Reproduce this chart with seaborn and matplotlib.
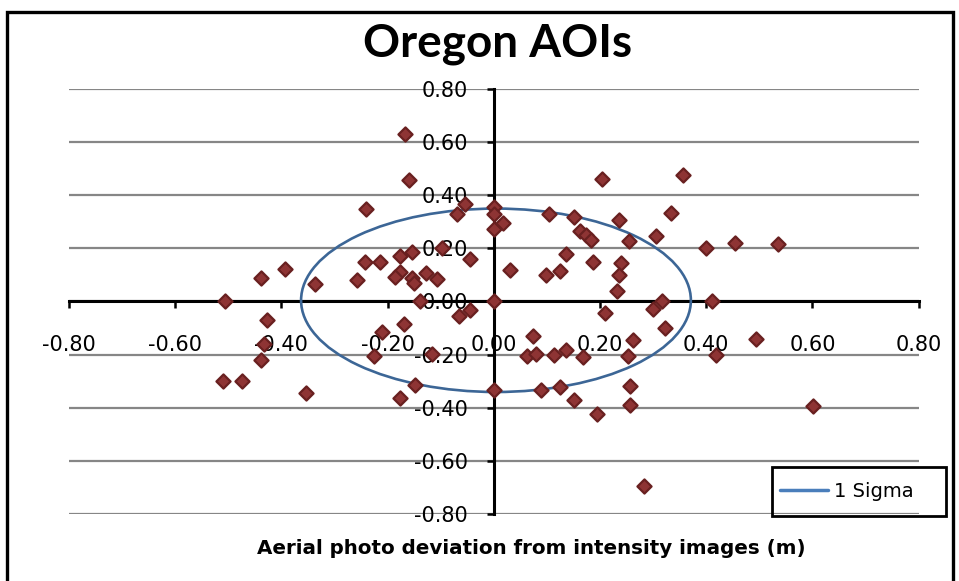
import matplotlib
matplotlib.use("Agg")
import matplotlib.pyplot as plt
from matplotlib.patches import Ellipse, Rectangle
from matplotlib.lines import Line2D
import seaborn as sns
import pandas as pd

# ---- data ----
x_dev = [-0.168, -0.159, -0.240, -0.069, -0.055, 0.000, 0.000, 0.000, -0.098, -0.154,
         -0.176, -0.044, -0.243, -0.214, -0.177, -0.187, -0.127, -0.107, -0.154, -0.150,
         -0.257, -0.336, -0.394, -0.439, -0.507, -0.139, 0.000,
         0.203, 0.356, 0.018, 0.103, 0.150, 0.162, 0.173, 0.182, 0.235, 0.333,
         0.306, 0.254, 0.400, 0.454, 0.536, 0.136, 0.031, 0.099, 0.124, 0.187,
         0.240, 0.235, 0.232, 0.317, 0.410,
         -0.427, -0.432, -0.439, -0.510, -0.474, -0.353, -0.211, -0.226, -0.169, -0.117,
         -0.149, -0.177, -0.065, -0.045, 0.000,
         0.210, 0.299, 0.323, 0.074, 0.062, 0.079, 0.114, 0.136, 0.168, 0.262,
         0.253, 0.089, 0.124, 0.151, 0.195, 0.257, 0.257, 0.493, 0.418, 0.601, 0.283]
y_dev = [0.628, 0.456, 0.347, 0.330, 0.367, 0.355, 0.330, 0.273, 0.201, 0.185,
         0.169, 0.158, 0.147, 0.148, 0.110, 0.092, 0.106, 0.084, 0.087, 0.069,
         0.079, 0.064, 0.123, 0.089, 0.000, 0.001, 0.000,
         0.460, 0.474, 0.294, 0.330, 0.318, 0.266, 0.249, 0.231, 0.307, 0.333,
         0.247, 0.226, 0.200, 0.219, 0.215, 0.177, 0.117, 0.098, 0.114, 0.149,
         0.145, 0.100, 0.039, 0.001, 0.000,
         -0.069, -0.159, -0.220, -0.301, -0.301, -0.343, -0.115, -0.205, -0.086, -0.197,
         -0.315, -0.363, -0.055, -0.034, -0.335,
         -0.042, -0.029, -0.099, -0.132, -0.207, -0.199, -0.203, -0.184, -0.209, -0.147,
         -0.207, -0.333, -0.324, -0.370, -0.425, -0.317, -0.389, -0.143, -0.203, -0.394, -0.694]

sigma_center = (0.004, 0.004)
sigma_x = 0.367
sigma_y = 0.345

tick_values = [-0.80, -0.60, -0.40, -0.20, 0.00, 0.20, 0.40, 0.60, 0.80]
tick_labels = ["-0.80", "-0.60", "-0.40", "-0.20", "0.00", "0.20", "0.40", "0.60", "0.80"]

title_text = "Oregon AOIs"
xlabel_text = "Aerial photo deviation from intensity images (m)"
legend_text = "1 Sigma"

df = pd.DataFrame({"x": x_dev, "y": y_dev})

# ---- style ----
sns.set_style("white")
plt.rcParams["font.family"] = ["DejaVu Sans"]
plt.rcParams["text.color"] = "black"

W, H = 959, 581
fig = plt.figure(figsize=(W / 100, H / 100), dpi=100)
fig.patch.set_facecolor("white")

ax_left, ax_right = 69 / W, 918.7 / W
ax_bottom, ax_top = 1 - 514 / H, 1 - 88.7 / H
ax = fig.add_axes([ax_left, ax_bottom, ax_right - ax_left, ax_top - ax_bottom])
ax.set_facecolor("none")

sns.scatterplot(data=df, x="x", y="y", marker="D", s=52, color="#8e3434",
                edgecolor="#692020", linewidth=1.6, ax=ax, zorder=5, legend=False)

ell = Ellipse(sigma_center, 2 * sigma_x, 2 * sigma_y, fill=False,
              edgecolor="#3c6696", linewidth=1.9, zorder=4)
ax.add_patch(ell)

ax.set_xlim(-0.8, 0.8)
ax.set_ylim(-0.8, 0.8)
ax.set_xticks(tick_values)
ax.set_xticklabels(tick_labels)
ax.set_yticks(tick_values)
ax.set_yticklabels(tick_labels)
ax.set_xlabel("")
ax.set_ylabel("")

for side in ["top", "right"]:
    ax.spines[side].set_visible(False)
ax.spines["left"].set_position(("data", 0))
ax.spines["bottom"].set_position(("data", 0))
for side in ["left", "bottom"]:
    ax.spines[side].set_linewidth(2.2)
    ax.spines[side].set_color("black")
    ax.spines[side].set_zorder(3)

ax.yaxis.grid(True, color="#868686", linewidth=1.6, zorder=1)
ax.xaxis.grid(False)
ax.set_axisbelow(True)

ax.tick_params(axis="x", direction="out", length=5, width=1.8, pad=19,
               labelsize=15, colors="black", bottom=True)
ax.tick_params(axis="y", direction="out", length=5, width=1.8, pad=13.5,
               labelsize=15, colors="black", left=True)

# title and x label
fig.text(498 / W, 1 - 44 / H, title_text, ha="center", va="center",
         fontsize=33, fontweight="bold", color="black",
         family=["Lato", "DejaVu Sans"])
fig.text(531 / W, 1 - 549 / H, xlabel_text, ha="center", va="center",
         fontsize=14.3, fontweight="bold", color="black", family=["DejaVu Sans"])

# legend
handle = Line2D([], [], color="#4a7ebb", linewidth=2.5)
leg = ax.legend([handle], [legend_text], loc="center left",
                bbox_to_anchor=(776 / W, 1 - 491.5 / H), bbox_transform=fig.transFigure,
                frameon=False, fontsize=14, handlelength=2.45, handletextpad=0.35,
                borderpad=0.2, borderaxespad=0)
for t in leg.get_texts():
    t.set_color("black")
leg.set_zorder(7)
fig.patches.append(Rectangle((772 / W, 1 - 516 / H), (946 - 772) / W, (516 - 467) / H,
                             transform=fig.transFigure, fill=False,
                             edgecolor="black", linewidth=2.0, zorder=6))

# outer chart border
fig.patches.append(Rectangle((7 / W, -0.02), (953 - 7) / W, 1.02 - 12 / H,
                             transform=fig.transFigure, fill=False,
                             edgecolor="black", linewidth=2.4, zorder=10))

fig.savefig("out.png", dpi=100)
